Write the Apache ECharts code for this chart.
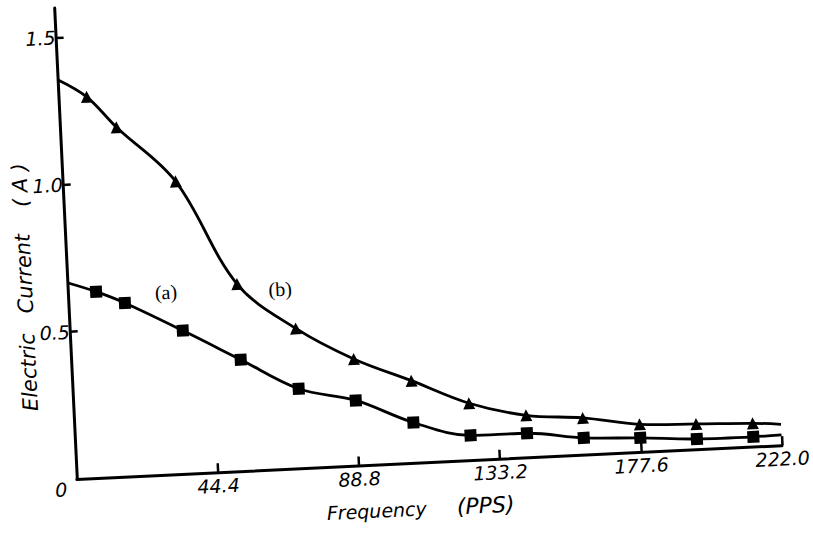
<!DOCTYPE html>
<html>
<head>
<meta charset="utf-8">
<title>Electric current vs frequency</title>
<script src="https://cdn.jsdelivr.net/npm/echarts@6/dist/echarts.min.js"></script>
<style>
  html, body { margin: 0; padding: 0; background: #fff; overflow: hidden; width: 813px; height: 533px; }
  /* the scan is tilted a little, so the whole chart is turned to match */
  #main { position: absolute; left: -40px; top: -40px; width: 893px; height: 613px; transform: rotate(-2.75deg); }
</style>
</head>
<body>
<div id="main"></div>
<script>
// frequency of the measured points (PPS)
var freqPts = [8.88, 17.76, 35.52, 53.28, 71.04, 88.8, 106.56, 124.32, 142.08, 159.84, 177.6, 195.36, 213.12];
// curve (a), squares
var currentA = [0.632, 0.589, 0.486, 0.378, 0.270, 0.221, 0.137, 0.084, 0.082, 0.057, 0.048, 0.035, 0.033];
// curve (b), triangles
var currentB = [1.294, 1.186, 0.993, 0.635, 0.475, 0.362, 0.279, 0.193, 0.143, 0.125, 0.094, 0.086, 0.079];
// where the drawn curves meet the y axis and where they stop on the right
var curveEnds = [0, 222.0];
var endsA = [0.667, 0.035];
var endsB = [1.357, 0.071];

var xTicks = [44.4, 88.8, 133.2, 177.6, 222.0];
var xLabels = [0, 44.4, 88.8, 133.2, 177.6, 222.0];
var yTicks = [0.5, 1.0, 1.5];
var yLabels = [0, 0.5, 1.0, 1.5];

var font = 'DejaVu Sans';
var txt = { color: '#000', fontFamily: font, fontStyle: 'italic', fontSize: 19 };

// build line data: free curve ends without marker + measured points
function buildData(vals, ends, tag, tagIndex, tagOffset) {
  var data = [{ value: [curveEnds[0], ends[0]], symbol: 'none' }];
  for (var i = 0; i < freqPts.length; i++) {
    var item = { value: [freqPts[i], vals[i]] };
    if (i === tagIndex) {
      item.label = {
        show: true,
        position: 'inside',
        offset: tagOffset,
        formatter: tag,
        color: '#000',
        fontFamily: 'Liberation Serif',
        fontSize: 20
      };
    }
    data.push(item);
  }
  data.push({ value: [curveEnds[1], ends[1]], symbol: 'none' });
  return data;
}

var chart = echarts.init(document.getElementById('main'), null, { renderer: 'svg' });

var option = {
  backgroundColor: '#fff',
  animation: false,
  grid: { left: 107, right: 80, top: 31.5, bottom: 110 },
  xAxis: {
    type: 'value',
    min: 0,
    max: 222,
    name: 'Frequency     {p|(PPS)}',
    nameLocation: 'middle',
    nameGap: 35,
    nameMoveOverlap: false,
    nameTextStyle: Object.assign({}, txt, {
      padding: [0, 22, 0, 0],
      rich: { p: Object.assign({}, txt, { fontSize: 22 }) }
    }),
    axisLine: { lineStyle: { color: '#000', width: 3 } },
    axisTick: { inside: true, length: 9, customValues: xTicks, lineStyle: { color: '#000', width: 2.5 } },
    axisLabel: Object.assign({}, txt, {
      customValues: xLabels,
      margin: 4,
      formatter: function (v) { return v === 0 ? '' : v.toFixed(1); }
    }),
    splitLine: { show: false }
  },
  yAxis: {
    type: 'value',
    min: 0,
    max: 1.6,
    name: 'Electric   Current    ( A )',
    nameLocation: 'middle',
    nameGap: 32,
    nameMoveOverlap: false,
    nameTextStyle: Object.assign({}, txt, { fontSize: 21, padding: [0, 83, 0, 0] }),
    axisLine: { lineStyle: { color: '#000', width: 3 } },
    axisTick: { inside: true, length: 8, customValues: yTicks, lineStyle: { color: '#000', width: 2.5 } },
    axisLabel: Object.assign({}, txt, {
      customValues: yLabels,
      margin: 0,
      formatter: function (v) { return v === 0 ? '{z|0}' : '{n|' + v.toFixed(1) + '}'; },
      rich: {
        n: Object.assign({}, txt, { width: 32, align: 'right' }),
        z: Object.assign({}, txt, { width: 32, align: 'right', padding: [20, 10, 0, 0] })
      }
    }),
    splitLine: { show: false }
  },
  series: [
    {
      name: '(a)',
      type: 'line',
      smooth: 0.35,
      symbol: 'rect',
      symbolSize: 12,
      itemStyle: { color: '#000' },
      lineStyle: { color: '#000', width: 2.8 },
      data: buildData(currentA, endsA, '(a)', 1, [41.5, -9])
    },
    {
      name: '(b)',
      type: 'line',
      smooth: 0.35,
      symbol: 'triangle',
      symbolSize: 12,
      itemStyle: { color: '#000' },
      lineStyle: { color: '#000', width: 2.8 },
      data: buildData(currentB, endsB, '(b)', 3, [42.8, 7])
    }
  ]
};

chart.setOption(option);
</script>
</body>
</html>
